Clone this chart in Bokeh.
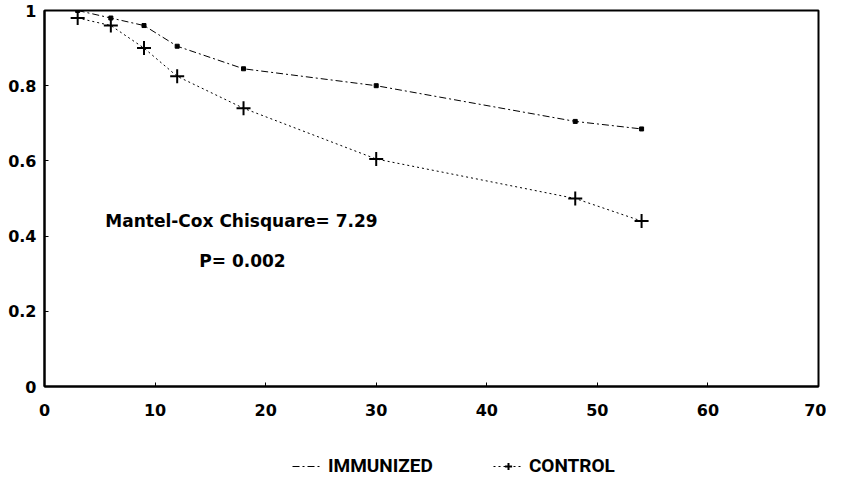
from bokeh.plotting import figure
from bokeh.layouts import column
from bokeh.models import Legend, LegendItem, FixedTicker, Label, Range1d
from bokeh.embed import file_html
from bokeh.resources import INLINE

# ---- data ----
months = [3, 6, 9, 12, 18, 30, 48, 54]
immunized = [1.0, 0.98, 0.96, 0.905, 0.845, 0.80, 0.705, 0.685]
control = [0.98, 0.96, 0.90, 0.825, 0.74, 0.605, 0.50, 0.44]
x_ticks = [0, 10, 20, 30, 40, 50, 60, 70]
y_ticks = [0, 0.2, 0.4, 0.6, 0.8, 1]
y_tick_labels = ["0", "0.2", "0.4", "0.6", "0.8", "1"]
series_names = ["IMMUNIZED", "CONTROL"]
stat_text = "Mantel-Cox Chisquare= 7.29"
p_text = "P= 0.002"

TICK_FONT = "DejaVu Sans"
LEG_FONT = "Roboto"

IM_STYLE = dict(line_color="black", line_width=1, line_dash="7 3 2 3")
CO_STYLE = dict(line_color="black", line_width=1, line_dash="2 3")

p = figure(width=826, height=430, output_backend="svg", toolbar_location=None,
           x_range=Range1d(0, 70), y_range=Range1d(0, 1),
           min_border_left=44, min_border_right=8, min_border_top=10,
           min_border_bottom=44)
p.xgrid.visible = False
p.ygrid.visible = False
p.outline_line_color = "black"
p.outline_line_width = 2
p.background_fill_color = "white"
p.border_fill_color = "white"

for ax in (p.xaxis[0], p.yaxis[0]):
    ax.axis_line_width = 2
    ax.axis_line_color = "black"
    ax.major_tick_in = 4
    ax.major_tick_out = 0
    ax.minor_tick_line_color = None
    ax.major_label_text_font = TICK_FONT
    ax.major_label_text_font_style = "bold"
    ax.major_label_text_font_size = "16px"
    ax.major_label_text_color = "black"

p.xaxis.ticker = FixedTicker(ticks=x_ticks)
p.yaxis.ticker = FixedTicker(ticks=y_ticks)
p.yaxis.major_label_overrides = {t: l for t, l in zip(y_ticks, y_tick_labels)}
p.xaxis.major_label_standoff = 17
p.yaxis.major_label_standoff = 8

p.line(months, immunized, **IM_STYLE)
p.scatter(months, immunized, marker="square", size=4, color="black")
p.line(months, control, **CO_STYLE)
p.scatter(months, control, marker="cross", size=14, line_color="black", line_width=2)

p.add_layout(Label(x=5.5, y=0.44, text=stat_text, text_font=TICK_FONT, text_font_style="bold",
                   text_font_size="17px", text_baseline="middle", text_color="black"))
p.add_layout(Label(x=14.0, y=0.335, text=p_text, text_font=TICK_FONT, text_font_style="bold",
                   text_font_size="17px", text_baseline="middle", text_color="black"))

# ---- legend strip below the chart ----
p2 = figure(width=826, height=49, output_backend="svg", toolbar_location=None,
            x_range=Range1d(1000, 1001), y_range=Range1d(0, 1),
            x_axis_type=None, y_axis_type=None,
            min_border_left=0, min_border_right=0, min_border_top=0, min_border_bottom=0)
p2.xgrid.visible = False
p2.ygrid.visible = False
p2.outline_line_color = None
p2.background_fill_color = "white"
p2.border_fill_color = "white"

l_im = p2.line(months, immunized, **IM_STYLE)
l_co = p2.line(months, control, **CO_STYLE)
l_co_pts = p2.scatter(months, control, marker="cross", size=14, line_color="black", line_width=2)

legend = Legend(items=[LegendItem(label=series_names[0], renderers=[l_im]),
                       LegendItem(label=series_names[1], renderers=[l_co, l_co_pts])],
                location=(248, 2), orientation="horizontal",
                border_line_color=None, background_fill_alpha=0,
                label_text_font=LEG_FONT, label_text_font_style="bold",
                label_text_font_size="19px", label_text_color="black",
                label_height=18, glyph_height=18,
                glyph_width=30, spacing=60,
                padding=0, margin=0, label_standoff=6)
p2.add_layout(legend, "center")

layout = column(p, p2, spacing=0)
open("out.html", "w").write(file_html(layout, INLINE))
